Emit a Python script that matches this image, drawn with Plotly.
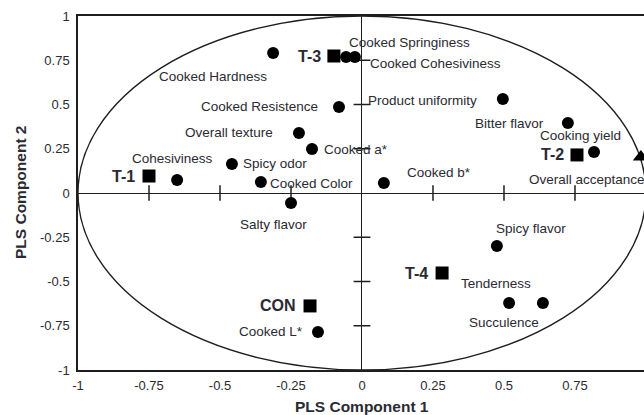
import plotly.graph_objects as go

# PLS loadings of the measured attributes (X variables)
attributes = [
    "Cooked Hardness", "Cooked Springiness", "Cooked Cohesiviness", "Product uniformity",
    "Cooked Resistence", "Bitter flavor", "Cooking yield", "Cooked b*", "Cooked a*",
    "Overall texture", "Spicy odor", "Cohesiviness", "Cooked Color", "Salty flavor",
    "Spicy flavor", "Tenderness", "Succulence", "Cooked L*",
]
attr_pc1 = [-0.313, -0.056, -0.025, 0.496, -0.081, 0.725, 0.817, 0.077, -0.176,
            -0.222, -0.458, -0.651, -0.356, -0.250, 0.475, 0.518, 0.637, -0.155]
attr_pc2 = [0.791, 0.768, 0.768, 0.531, 0.486, 0.395, 0.232, 0.056, 0.249,
            0.339, 0.164, 0.073, 0.062, -0.056, -0.299, -0.621, -0.621, -0.785]

# Treatment scores
treatments = ["T-1", "T-2", "T-3", "T-4", "CON"]
trt_pc1 = [-0.750, 0.757, -0.099, 0.282, -0.183]
trt_pc2 = [0.096, 0.215, 0.774, -0.452, -0.638]

# Response variable (Y)
responses = ["Overall acceptance"]
resp_pc1 = [0.982]
resp_pc2 = [0.203]

tick_vals = [-1, -0.75, -0.5, -0.25, 0, 0.25, 0.5, 0.75, 1]
tick_text = ["-1", "-0.75", "-0.5", "-0.25", "0", "0.25", "0.5", "0.75", "1"]

# label placement: (xanchor, xshift px, yshift px) relative to the marker
label_place = {
    "Cooked Hardness": ("center", -60, -24),
    "Cooked Springiness": ("left", 1, 15),
    "Cooked Cohesiviness": ("left", 13, -6),
    "Product uniformity": ("right", -24, -1),
    "Cooked Resistence": ("right", -19, 0),
    "Bitter flavor": ("right", -22, 0),
    "Cooking yield": ("center", -14, 16),
    "Cooked b*": ("left", 21, 11),
    "Cooked a*": ("left", 10, -1),
    "Overall texture": ("right", -24, 1),
    "Spicy odor": ("left", 9, 0),
    "Cohesiviness": ("center", -5, 22),
    "Cooked Color": ("left", 7, -1),
    "Salty flavor": ("center", -18, -22),
    "Spicy flavor": ("center", 34, 17),
    "Tenderness": ("center", -13, 19),
    "Succulence": ("center", -39, -20),
    "Cooked L*": ("right", -13, 0),
    "T-1": ("right", -12, 0),
    "T-2": ("right", -11, 0),
    "T-3": ("right", -11, 0),
    "T-4": ("right", -12, 0),
    "CON": ("right", -12, 0),
    "Overall acceptance": ("left", -114, -22),
}

FONT = "Liberation Sans, Arial, Helvetica, sans-serif"
INK = "#1e1e1e"
TXT = "#2a2a33"

fig = go.Figure()

# tick marks crossing the zero axes
inner_ticks = [v for v in tick_vals if v not in (-1, 0, 1)]
fig.add_trace(go.Scatter(
    x=inner_ticks, y=[0] * len(inner_ticks), mode="markers", hoverinfo="skip",
    marker=dict(symbol="line-ns-open", size=11, color=INK, line=dict(color=INK, width=1.5)),
))
fig.add_trace(go.Scatter(
    x=[0] * len(inner_ticks), y=inner_ticks, mode="markers", hoverinfo="skip",
    marker=dict(symbol="line-ew-open", size=12, color=INK, line=dict(color=INK, width=1.5)),
))

fig.add_trace(go.Scatter(
    x=attr_pc1, y=attr_pc2, mode="markers", name="Attributes",
    marker=dict(symbol="circle", size=12, color="black"),
    hovertext=attributes,
))
fig.add_trace(go.Scatter(
    x=trt_pc1, y=trt_pc2, mode="markers", name="Treatments",
    marker=dict(symbol="square", size=13, color="black"),
    hovertext=treatments,
))
fig.add_trace(go.Scatter(
    x=resp_pc1, y=resp_pc2, mode="markers", name="Response",
    marker=dict(symbol="triangle-up", size=14, color="black"),
    hovertext=responses,
))

annotations = []
for names, xs, ys, bold in ((attributes, attr_pc1, attr_pc2, False),
                            (treatments, trt_pc1, trt_pc2, True),
                            (responses, resp_pc1, resp_pc2, False)):
    for n, xv, yv in zip(names, xs, ys):
        anchor, dx, dy = label_place[n]
        annotations.append(dict(
            x=xv, y=yv, xref="x", yref="y", text=f"<b>{n}</b>" if bold else n,
            showarrow=False, xanchor=anchor, yanchor="middle", xshift=dx, yshift=dy,
            font=dict(family=FONT, size=16 if bold else 13.5, color=TXT),
        ))

# axis titles
annotations.append(dict(
    x=0, y=0, xref="x", yref="paper", text="<b>PLS Component 1</b>", showarrow=False,
    xanchor="center", yanchor="middle", yshift=-36,
    font=dict(family=FONT, size=15.5, color=TXT),
))
annotations.append(dict(
    x=0, y=0, xref="paper", yref="y", text="<b>PLS Component 2</b>", showarrow=False,
    xanchor="center", yanchor="middle", xshift=-58, textangle=-90,
    font=dict(family=FONT, size=15.5, color=TXT),
))

shapes = [dict(type="circle", xref="x", yref="y", x0=-1, y0=-1, x1=1, y1=1,
               line=dict(color=INK, width=1.4), layer="below")]

axis_common = dict(
    tickvals=tick_vals, ticktext=tick_text, showgrid=False,
    zeroline=True, zerolinecolor=INK, zerolinewidth=1.4,
    showline=True, linecolor=INK, linewidth=1.5, ticks="",
    tickfont=dict(family=FONT, size=13, color=TXT),
)

fig.update_layout(
    width=644, height=415, autosize=False,
    margin=dict(l=78, r=0, t=16, b=45),
    paper_bgcolor="white", plot_bgcolor="white",
    showlegend=False,
    xaxis=dict(range=[-1, 0.993], mirror=True, ticklabelstandoff=3, **axis_common),
    yaxis=dict(range=[-1, 1], mirror=False, ticklabelstandoff=4, **axis_common),
    shapes=shapes,
    annotations=annotations,
)

fig.write_html("out.html")
